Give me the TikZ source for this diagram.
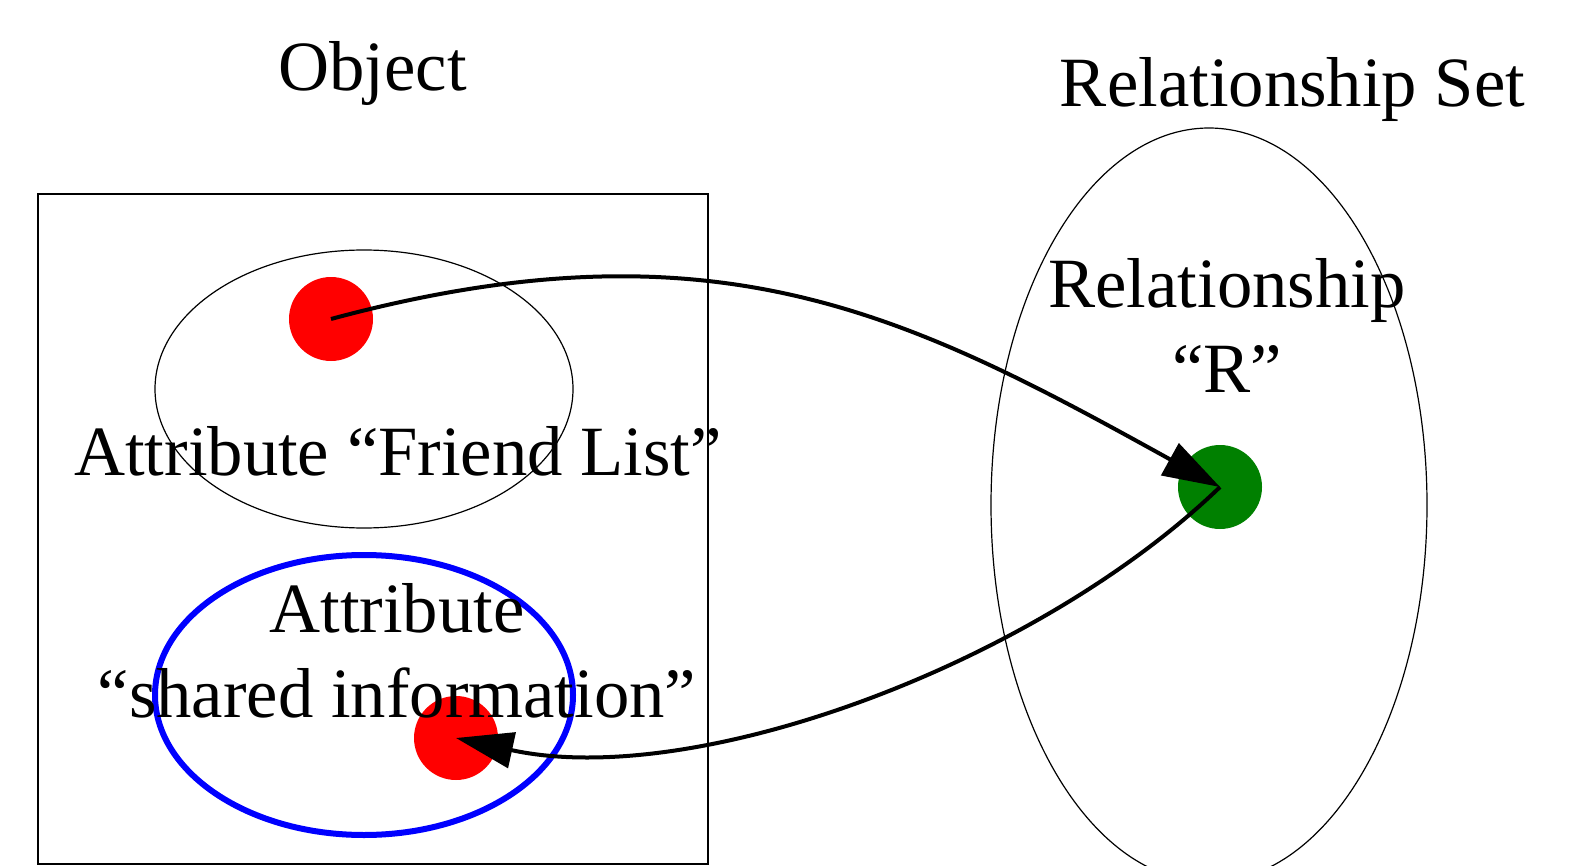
\documentclass[tikz,border=0pt]{standalone}
\usepackage{fontspec}
\setmainfont{Liberation Serif}
\usetikzlibrary{arrows.meta}
\definecolor{relgreen}{RGB}{0,128,0}
\tikzset{
  lbl/.style={inner sep=0pt, align=center, font=\fontsize{53}{63.6}\selectfont},
  dot/.style={circle, inner sep=0pt, minimum size=63pt},
  link/.style={line width=3pt, -{Triangle[length=43pt,width=27pt]}}
}
\begin{document}
\begin{tikzpicture}[x=0.75pt,y=0.75pt,yscale=-1,xscale=1]
\useasboundingbox (0,0) rectangle (1573,866);
% object box and its two attributes
\draw [line width=1pt] (38,194) rectangle (708,864);
\draw [line width=0.9pt] (364,389) ellipse [x radius=209, y radius=139];
\draw [color=blue, line width=4.5pt] (364,695) ellipse [x radius=209, y radius=140];
% relationship set
\draw [line width=0.9pt] (1209,505) ellipse [x radius=218, y radius=377];
\node [dot, fill=red] (fr) at (331,319) {};
\node [dot, fill=red] (sh) at (456,738) {};
\node [dot, fill=relgreen] (rel) at (1220,487) {};
% labels (multi-line ones sit on their last baseline)
\draw (372.5,91) node [lbl, anchor=base] (objlbl) {Object};
\draw (1292.5,107) node [lbl, anchor=base] (setlbl) {Relationship Set};
\draw (1227,392) node [lbl, anchor=base] (rellbl) {Relationship\\“R”};
\draw (398,475) node [lbl, anchor=base] (frlbl) {Attribute “Friend List”};
\draw (397,717) node [lbl, anchor=base] (shlbl) {Attribute\\“shared information”};
% friend list -> R -> shared information
\draw [link] (fr.center) .. controls +(386,-104) and +(-309,-171) .. (rel.center);
\draw [link] (rel.center) .. controls +(-185,178) and +(238,52) .. (sh.center);
\end{tikzpicture}
\end{document}
